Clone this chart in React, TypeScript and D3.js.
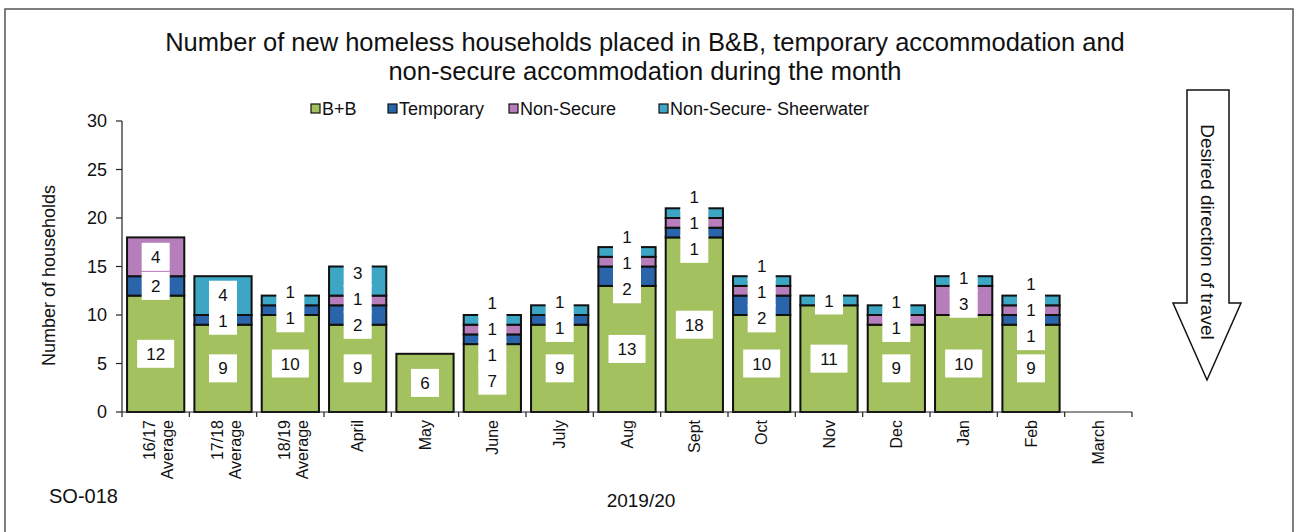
import React from "react";
import * as d3 from "d3";

const categories: string[][] = [
  ["16/17", "Average"],
  ["17/18", "Average"],
  ["18/19", "Average"],
  ["April"],
  ["May"],
  ["June"],
  ["July"],
  ["Aug"],
  ["Sept"],
  ["Oct"],
  ["Nov"],
  ["Dec"],
  ["Jan"],
  ["Feb"],
  ["March"],
];
const bnb: (number | null)[] = [12, 9, 10, 9, 6, 7, 9, 13, 18, 10, 11, 9, 10, 9, null];
const temporary: (number | null)[] = [2, 1, 1, 2, 0, 1, 1, 2, 1, 2, 0, 0, 0, 1, null];
const nonSecure: (number | null)[] = [4, 0, 0, 1, 0, 1, 0, 1, 1, 1, 0, 1, 3, 1, null];
const sheerwater: (number | null)[] = [0, 4, 1, 3, 0, 1, 1, 1, 1, 1, 1, 1, 1, 1, null];
const seriesNames = ["B+B", "Temporary", "Non-Secure", "Non-Secure- Sheerwater"];
const seriesColors = ["#a3c15e", "#2a64aa", "#b67fbc", "#3ca6c4"];
const yTicks = [0, 5, 10, 15, 20, 25, 30];
const titleLines = [
  "Number of new homeless households placed in B&B, temporary accommodation and",
  "non-secure accommodation during the month",
];

const FONT = "Liberation Sans, Arial, sans-serif";

export default function App() {
  const series = [bnb, temporary, nonSecure, sheerwater];
  const keys = categories.map((c) => c.join(" "));
  const x = d3.scaleBand<string>().domain(keys).range([122, 1132]).paddingInner(0.15).paddingOuter(0.075);
  const y = d3.scaleLinear().domain([0, 30]).range([412, 121]);
  const boundaries = d3.range(keys.length + 1).map((i) => 122 + (i * (1132 - 122)) / keys.length);

  const bars: any[] = [];
  const labels: any[] = [];
  keys.forEach((k, i) => {
    let cum = 0;
    const items: { v: number; c: number }[] = [];
    series.forEach((s, si) => {
      const v = s[i];
      if (v == null || v === 0) return;
      const y0 = cum;
      const y1 = cum + v;
      cum = y1;
      bars.push(
        <rect key={`b${i}-${si}`} x={x(k)} width={x.bandwidth()} y={y(y1)} height={y(y0) - y(y1)}
          fill={seriesColors[si]} stroke="#111" strokeWidth={2} />
      );
      items.push({ v, c: y((y0 + y1) / 2) });
    });
    const sorted = items.slice().sort((a, b) => a.c - b.c);
    const gap = 26;
    let clusters: { members: typeof sorted; pos: number }[] = sorted.map((m) => ({ members: [m], pos: m.c }));
    let changed = true;
    const place = (cl: { members: typeof sorted; pos: number }) => {
      const n = cl.members.length;
      cl.pos = d3.mean(cl.members.map((m, j) => m.c - (j - (n - 1) / 2) * gap))!;
    };
    while (changed) {
      changed = false;
      for (let j = 0; j < clusters.length - 1; j++) {
        const a = clusters[j], b = clusters[j + 1];
        const aBottom = a.pos + ((a.members.length - 1) / 2) * gap;
        const bTop = b.pos - ((b.members.length - 1) / 2) * gap;
        if (bTop - aBottom < gap) {
          const merged = { members: a.members.concat(b.members), pos: 0 };
          place(merged);
          clusters.splice(j, 2, merged);
          changed = true;
          break;
        }
      }
    }
    const cx = x(k)! + x.bandwidth() / 2;
    clusters.forEach((cl) => {
      const n = cl.members.length;
      cl.members.forEach((m, j) => {
        const ly = cl.pos + (j - (n - 1) / 2) * gap;
        const txt = String(m.v);
        const w = txt.length > 1 ? 37 : 28;
        labels.push(
          <g key={`l${i}-${j}-${ly}`}>
            <rect x={cx - w / 2} y={ly - 14} width={w} height={28} fill="#fff" />
            <text x={cx} y={ly} dy="0.36em" textAnchor="middle" fontSize={17} fontFamily={FONT} fill="#111">{txt}</text>
          </g>
        );
      });
    });
  });

  const legendX = [311, 388, 509, 659];

  return (
    <svg width={1297} height={532} style={{ position: "absolute", left: 0, top: 0, background: "#fff" }}>
      <rect x={5} y={9} width={1288} height={530} fill="#fff" stroke="#555" strokeWidth={1.5} />
      {titleLines.map((t, i) => (
        <text key={t} x={645} y={51 + i * 29} textAnchor="middle" fontSize={25.5} fontFamily={FONT} fill="#111">{t}</text>
      ))}
      {seriesNames.map((n, i) => (
        <g key={n}>
          <rect x={legendX[i]} y={104} width={9} height={9} fill={seriesColors[i]} stroke="#111" strokeWidth={1.2} />
          <text x={legendX[i] + 11} y={115} fontSize={18} fontFamily={FONT} fill="#111">{n}</text>
        </g>
      ))}
      <line x1={122} x2={122} y1={y(30)} y2={y(0)} stroke="#222" strokeWidth={1.2} />
      {yTicks.map((t) => (
        <g key={t}>
          <line x1={116} x2={122} y1={y(t)} y2={y(t)} stroke="#222" strokeWidth={1.2} />
          <text x={107} y={y(t)} dy="0.36em" textAnchor="end" fontSize={18} fontFamily={FONT} fill="#111">{t}</text>
        </g>
      ))}
      <text transform={`translate(55,${(y(0) + y(30)) / 2 + 9}) rotate(-90)`} textAnchor="middle" fontSize={18} fontFamily={FONT} fill="#111">Number of households</text>
      {bars}
      <line x1={122} x2={1132} y1={y(0)} y2={y(0)} stroke="#222" strokeWidth={1.2} />
      {boundaries.map((b, i) => (
        <line key={i} x1={b} x2={b} y1={y(0)} y2={y(0) + 5} stroke="#222" strokeWidth={1.2} />
      ))}
      {categories.map((c, i) => {
        const cx = x(keys[i])! + x.bandwidth() / 2 + (c.length > 1 ? 3 : 0);
        return (
          <text key={keys[i]} transform={`translate(${cx},420) rotate(-90)`} textAnchor="end" fontSize={16} fontFamily={FONT} fill="#111">
            {c.map((line, j) => (
              <tspan key={j} x={0} y={(j - (c.length - 1) / 2) * 18} dy="0.36em">{line}</tspan>
            ))}
          </text>
        );
      })}
      {labels}
      <text x={641} y={507} textAnchor="middle" fontSize={19} fontFamily={FONT} fill="#111">2019/20</text>
      <text x={49} y={503} fontSize={20} fontFamily={FONT} fill="#111">SO-018</text>
      <polygon points="1187,90 1229,90 1229,303 1241,303 1207,380 1173,303 1187,303" fill="#fff" stroke="#111" strokeWidth={1.5} />
      <text transform="translate(1201,232) rotate(90)" textAnchor="middle" fontSize={19} fontFamily={FONT} fill="#111">Desired direction of travel</text>
    </svg>
  );
}
